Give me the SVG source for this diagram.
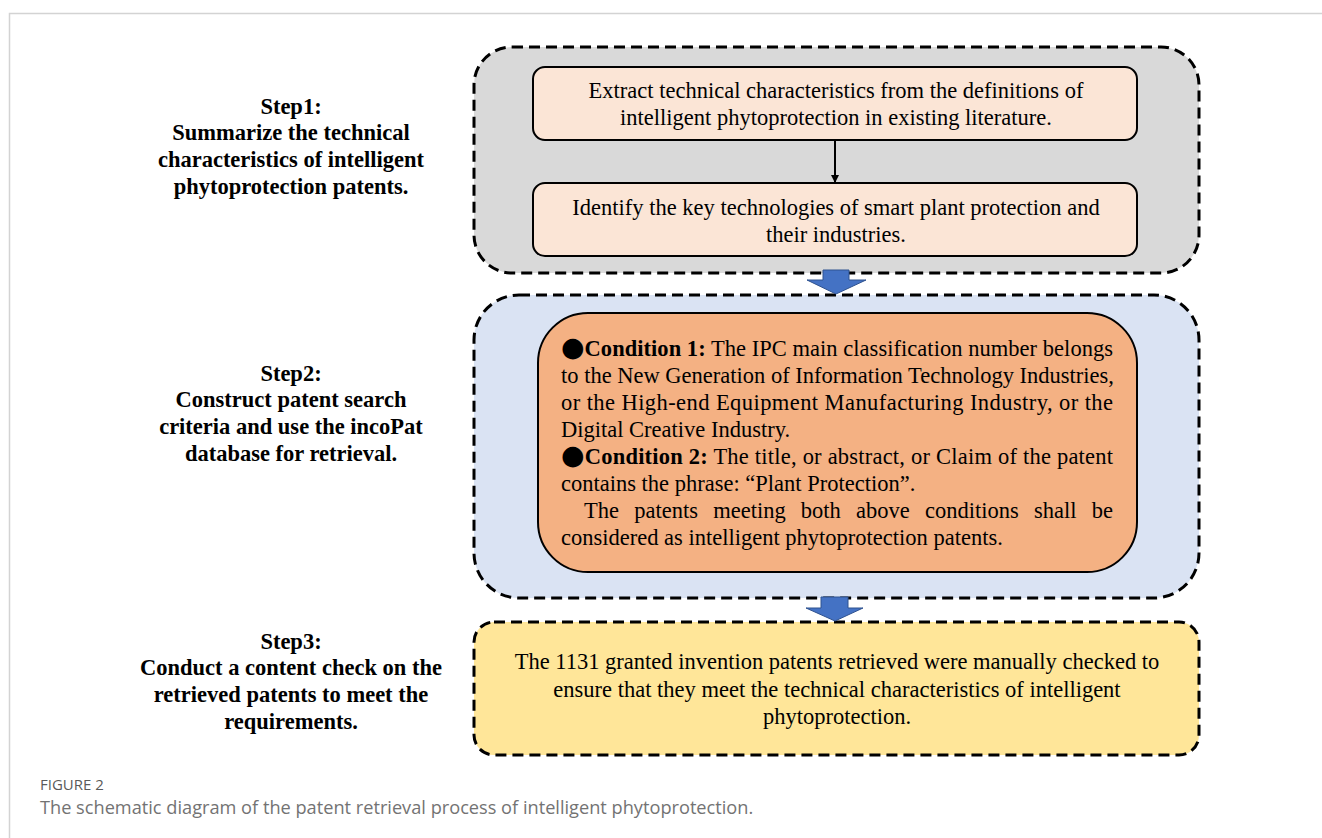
<svg xmlns="http://www.w3.org/2000/svg" width="1322" height="838" viewBox="0 0 1322 838">
  <defs>
    <marker id="tip" viewBox="0 0 10 10" refX="10" refY="5" markerWidth="8" markerHeight="8" orient="auto" markerUnits="userSpaceOnUse">
      <path d="M0,0 L10,5 L0,10 z" fill="#000"/>
    </marker>
    <style>
      .frame { fill: none; stroke: #d3d3d3; stroke-width: 1.5; }
      .stage { stroke: #000; stroke-width: 3; stroke-dasharray: 11 6; }
      .card { stroke: #000; stroke-width: 2; }
      .body { font-family: "Liberation Serif", "Times New Roman", serif; font-size: 22.5px; fill: #000; }
      .step { font-family: "Liberation Serif", "Times New Roman", serif; font-size: 22.5px; font-weight: bold; fill: #000; text-anchor: middle; }
      .mid { text-anchor: middle; }
      .bold { font-weight: bold; }
      .dot { font-family: "DejaVu Sans", sans-serif; font-size: 27px; }
      .flow { fill: #4472c4; stroke: #2f528f; stroke-width: 1; }
      .cap-label { font-family: "Open Sans", "Noto Sans", sans-serif; font-size: 15px; fill: #5a5a5a; }
      .cap-text { font-family: "Open Sans", "Noto Sans", sans-serif; font-size: 18.2px; fill: #737373; }
    </style>
  </defs>

  <rect width="1322" height="838" fill="#fff"/>
  <!-- figure frame -->
  <path class="frame" d="M9.5,838 V13.5 H1322"/>

  <!-- step labels -->
  <g id="step1-label" class="step">
    <text x="291" y="114">Step1:</text>
    <text x="291" y="140">Summarize the technical</text>
    <text x="291" y="167">characteristics of intelligent</text>
    <text x="291" y="194">phytoprotection patents.</text>
  </g>
  <g id="step2-label" class="step">
    <text x="291" y="381">Step2:</text>
    <text x="291" y="407">Construct patent search</text>
    <text x="291" y="434">criteria and use the incoPat</text>
    <text x="291" y="461">database for retrieval.</text>
  </g>
  <g id="step3-label" class="step">
    <text x="291" y="649">Step3:</text>
    <text x="291" y="675">Conduct a content check on the</text>
    <text x="291" y="702">retrieved patents to meet the</text>
    <text x="291" y="729">requirements.</text>
  </g>

  <!-- stage 1 -->
  <g id="stage1">
    <rect class="stage" x="474" y="47" width="725" height="226" rx="38" fill="#d9d9d9"/>
  </g>
  <g id="extract">
    <rect class="card" x="533" y="67" width="604" height="73" rx="12" fill="#fbe5d6"/>
    <text class="body mid" x="836" y="98">Extract technical characteristics from the definitions of</text>
    <text class="body mid" x="836" y="125">intelligent phytoprotection in existing literature.</text>
  </g>
  <g id="identify">
    <rect class="card" x="533" y="183" width="604" height="73" rx="12" fill="#fbe5d6"/>
    <text class="body mid" x="836" y="215">Identify the key technologies of smart plant protection and</text>
    <text class="body mid" x="836" y="242">their industries.</text>
  </g>

  <!-- stage 2 -->
  <g id="stage2">
    <rect class="stage" x="474" y="295" width="725" height="303" rx="45" fill="#dae3f3"/>
  </g>
  <g id="conditions">
    <rect class="card" x="538" y="313" width="599" height="259" rx="50" fill="#f4b183"/>
    <g class="body">
      <text x="561" y="356" textLength="552" lengthAdjust="spacing"><tspan class="dot">●</tspan><tspan class="bold">Condition 1:</tspan> The IPC main classification number belongs</text>
      <text x="561" y="383">to the New Generation of Information Technology Industries,</text>
      <text x="561" y="410" textLength="552" lengthAdjust="spacing">or the High-end Equipment Manufacturing Industry, or the</text>
      <text x="561" y="437">Digital Creative Industry.</text>
      <text x="561" y="464" textLength="552" lengthAdjust="spacing"><tspan class="dot">●</tspan><tspan class="bold">Condition 2:</tspan> The title, or abstract, or Claim of the patent</text>
      <text x="561" y="491">contains the phrase: “Plant Protection”.</text>
      <text x="584" y="518" word-spacing="9.6">The patents meeting both above conditions shall be</text>
      <text x="561" y="545">considered as intelligent phytoprotection patents.</text>
    </g>
  </g>

  <!-- stage 3 -->
  <g id="stage3">
    <rect class="stage" x="474" y="622" width="725" height="133" rx="20" fill="#ffe699"/>
    <text class="body mid" x="837" y="669">The 1131 granted invention patents retrieved were manually checked to</text>
    <text class="body mid" x="837" y="697">ensure that they meet the technical characteristics of intelligent</text>
    <text class="body mid" x="837" y="724">phytoprotection.</text>
  </g>

  <!-- connectors -->
  <g id="connectors">
    <line x1="835" y1="140" x2="835" y2="183" stroke="#000" stroke-width="2" marker-end="url(#tip)"/>
    <path class="flow" d="M823,270 H849 V280 H866 L836,294 L807,280 H823 Z"/>
    <path class="flow" d="M821,597 H848 V608 H863 L835,621 L806,608 H821 Z"/>
  </g>

  <!-- caption -->
  <g id="caption">
    <text class="cap-label" x="40" y="790">FIGURE 2</text>
    <text class="cap-text" x="40" y="814">The schematic diagram of the patent retrieval process of intelligent phytoprotection.</text>
  </g>
</svg>
